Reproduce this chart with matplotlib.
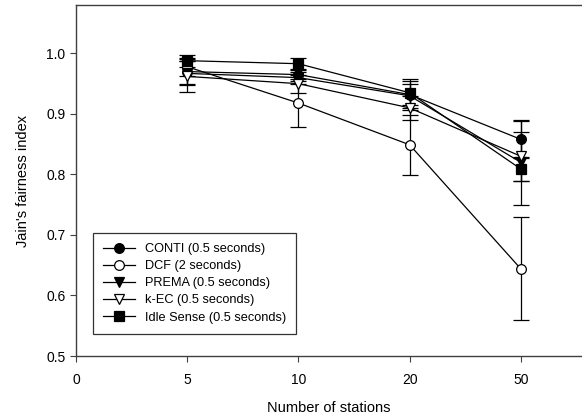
import matplotlib.pyplot as plt
from matplotlib.lines import Line2D
import numpy as np

plt.rcParams['font.family'] = ['Liberation Sans', 'DejaVu Sans']

stations = ['5', '10', '20', '50']
labels = ['CONTI (0.5 seconds)', 'DCF (2 seconds)', 'PREMA (0.5 seconds)',
          'k-EC (0.5 seconds)', 'Idle Sense (0.5 seconds)']

conti = [0.970, 0.965, 0.932, 0.858]
conti_err = [0.020, 0.010, 0.026, 0.030]
dcf = [0.978, 0.918, 0.849, 0.644]
dcf_err = [0.015, 0.040, 0.050, 0.085]
prema = [0.967, 0.960, 0.930, 0.820]
prema_err = [0.020, 0.010, 0.020, 0.070]
kec = [0.962, 0.950, 0.910, 0.830]
kec_err = [0.025, 0.015, 0.020, 0.040]
idle = [0.988, 0.983, 0.935, 0.809]
idle_err = [0.010, 0.010, 0.020, 0.020]

series = [conti, dcf, prema, kec, idle]
errors = [conti_err, dcf_err, prema_err, kec_err, idle_err]
markers = ['o', 'o', 'v', 'v', 's']
faces = ['black', 'white', 'black', 'white', 'black']

fig = plt.figure(figsize=(5.82, 4.19), dpi=100)
ax = fig.add_axes([76 / 582, 1 - 356 / 419, 1 - 76 / 582, (356 - 5) / 419])

x = np.arange(1, len(stations) + 1)
handles = []
for ys, err, m, fc, lab in zip(series, errors, markers, faces, labels):
    ax.errorbar(x, ys, yerr=err, color='black', lw=0.9, marker=m,
                markersize=7, markerfacecolor=fc, markeredgecolor='black',
                markeredgewidth=0.9, capsize=6, capthick=0.9, elinewidth=0.9)
    handles.append(Line2D([], [], color='black', lw=0.9, marker=m,
                          markersize=7, markerfacecolor=fc,
                          markeredgecolor='black', markeredgewidth=0.9,
                          label=lab))

ax.set_xlim(0, 4.55)
ax.set_ylim(0.5, 1.08)
ax.set_xticks(np.arange(0, len(stations) + 1))
ax.set_xticklabels(['0'] + stations)
ax.set_yticks([0.5, 0.6, 0.7, 0.8, 0.9, 1.0])
ax.set_yticklabels(['0.5', '0.6', '0.7', '0.8', '0.9', '1.0'])
ax.spines['right'].set_visible(False)
for s in ['left', 'top', 'bottom']:
    ax.spines[s].set_color('#404040')
    ax.spines[s].set_linewidth(1.0)
ax.tick_params(axis='both', labelsize=10, length=4, width=0.8, color='#404040')
ax.tick_params(axis='x', pad=8)

ax.set_xlabel('Number of stations', fontsize=10.5, labelpad=10)
ax.set_ylabel("Jain's fairness index", fontsize=10.5, labelpad=12)

leg = ax.legend(handles=handles, loc='lower left',
                bbox_to_anchor=(0.02, 0.045), fontsize=9.2,
                frameon=True, fancybox=False, edgecolor='black',
                handlelength=2.5, borderpad=0.8, labelspacing=0.4)
leg.get_frame().set_linewidth(0.9)

fig.savefig('out.png', dpi=100)
